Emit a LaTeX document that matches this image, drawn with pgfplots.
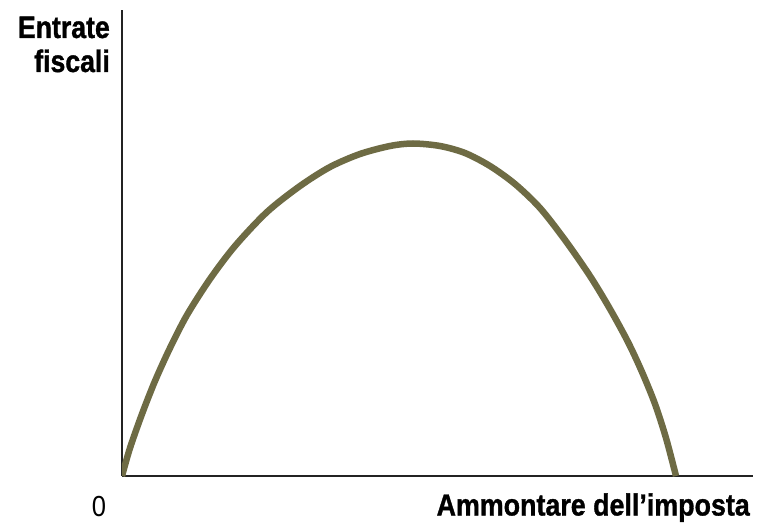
\documentclass[border=0pt]{standalone}
\usepackage{pgfplots}
\pgfplotsset{compat=1.18}
\usepackage{fontspec}
\setmainfont{Liberation Sans}
\newfontfamily\heavy[FakeBold=1.2]{Liberation Sans Bold}
\definecolor{curve}{RGB}{110,107,68}
\definecolor{axc}{RGB}{35,35,35}
\begin{document}
\begin{tikzpicture}[x=1pt,y=1pt]
\begin{axis}[
  at={(0,0)}, anchor=south west,
  scale only axis, width=631pt, height=466pt,
  xmin=0, xmax=631, ymin=0, ymax=466,
  axis lines=left,
  axis line style={-, line width=1.6pt, color=axc},
  xtick=\empty, ytick=\empty,
]
\addplot[curve, line width=6.5pt, smooth, tension=0.5] coordinates {
(0,0) (8,28) (20,62) (33,95) (48,128) (65,161) (88,197) (113,230) (145,264)
(178,290) (208,309) (238,322) (268,330) (291,332.5) (318,330) (343,323)
(368,310) (393,292) (418,268) (443,236) (468,200) (488,167) (506,134)
(520,104) (533,72) (544,38) (554,0)
};
\end{axis}
\path[use as bounding box] (-122,-47) rectangle (641,476);
\node[anchor=base east, inner sep=0pt] at (-12,438) {\scalebox{0.86}[1]{\fontsize{31}{34}\heavy Entrate}};
\node[anchor=base east, inner sep=0pt] at (-12,404) {\scalebox{0.86}[1]{\fontsize{31}{34}\heavy fiscali}};
\node[anchor=base, inner sep=0pt] at (-23,-40) {\scalebox{0.88}[1]{\fontsize{29}{34}\selectfont 0}};
\node[anchor=base east, inner sep=0pt] at (628,-39.5) {\scalebox{0.88}[1]{\fontsize{30.5}{34}\heavy Ammontare dell’imposta}};
\end{tikzpicture}
\end{document}
